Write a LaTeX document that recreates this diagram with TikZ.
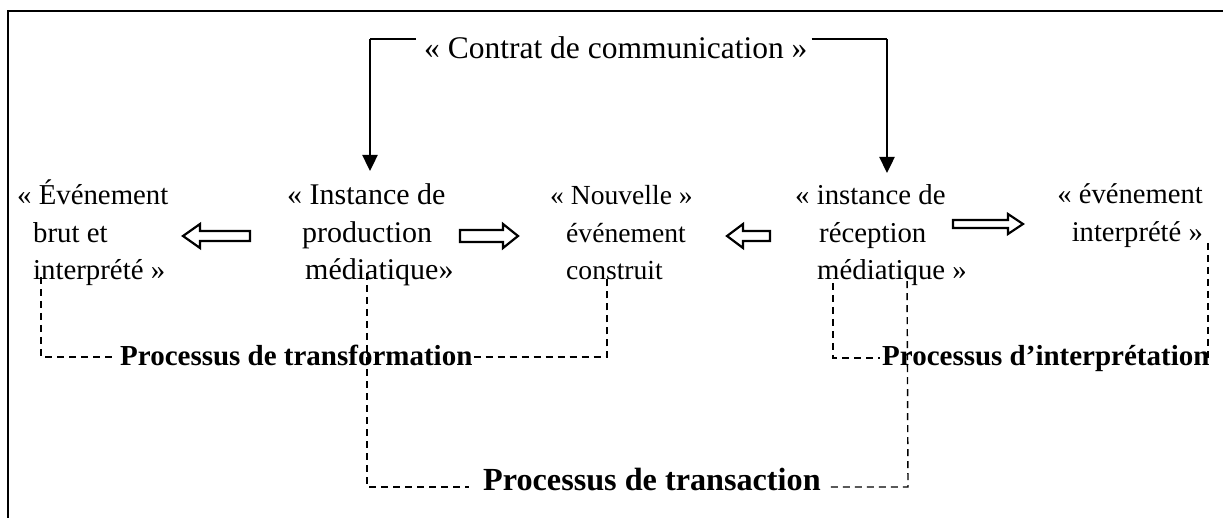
\documentclass[tikz,border=0pt]{standalone}
\usepackage{fontspec}
\setmainfont{Liberation Serif}
\usetikzlibrary{arrows.meta}
\newcommand\blockarr[6]{%
  \draw[blockline] (#1,{#3-#4}) -- ({#2-#6},{#3-#4}) -- ({#2-#6},{#3-#5}) -- (#2,#3)
    -- ({#2-#6},{#3+#5}) -- ({#2-#6},{#3+#4}) -- (#1,{#3+#4}) -- cycle;}
\begin{document}
\begin{tikzpicture}[x=1pt,y=-1pt,
  frameline/.style={line width=2.8pt},
  solidline/.style={line width=2.4pt,-{Triangle[length=16pt,width=15pt]}},
  plainline/.style={line width=2.4pt},
  blockline/.style={line width=2.2pt,line join=miter},
  dashline/.style={line width=1.4pt,dash pattern=on 7pt off 5pt},
  txt/.style={inner sep=0pt,anchor=base west,align=left,font=\fontsize{28.8}{37.5}\selectfont},
  txtbig/.style={inner sep=0pt,anchor=base west,align=left,font=\fontsize{30}{37.5}\selectfont},
  txtsm/.style={inner sep=0pt,anchor=base west,align=left,font=\fontsize{27.6}{37.5}\selectfont},
  txtr/.style={inner sep=0pt,anchor=base east,align=right,font=\fontsize{28.6}{38}\selectfont},
  titletxt/.style={inner sep=0pt,anchor=base west,font=\fontsize{31.5}{38}\selectfont},
  proc/.style={inner sep=0pt,anchor=base west,font=\fontsize{29}{35}\selectfont\bfseries},
  procbig/.style={inner sep=0pt,anchor=base west,font=\fontsize{32.2}{38}\selectfont\bfseries}]
\useasboundingbox (0,0) rectangle (1223,518);
% frame
\draw[frameline] (8,518) -- (8,11) -- (1223,11);
% texts (multi-line nodes are placed by the baseline of their last line)
\node[titletxt] (contrat) at (424,59) {« Contrat de communication »};
\node[txt] (ev1) at (17,280) {« Événement\\\hspace*{16pt}brut et\\\hspace*{16pt}interprété »};
\node[txtbig] (prod) at (287,280) {« Instance de\\\hspace*{15pt}production\\\hspace*{18pt}médiatique»};
\node[txtsm] (nouv) at (550,280) {« Nouvelle »\\\hspace*{16pt}événement\\\hspace*{16pt}construit};
\node[txt] (recep) at (795,280) {« instance de\\\hspace*{24pt}réception\\\hspace*{22pt}médiatique »};
\node[txtr] (ev2) at (1203,242) {« événement\\interprété »};
\node[proc] (ptransf) at (120,366) {Processus de transformation};
\node[proc] (pinterp) at (882,366) {Processus d’interprétation};
\node[procbig] (ptrans) at (483,490) {Processus de transaction};
% contract arrows
\coordinate (cL) at (370,39);
\coordinate (cR) at (887,39);
\coordinate (pL) at (370,171);
\coordinate (pR) at (887,173);
\draw[plainline] ([xshift=-8pt]contrat.west |- cL) -- (cL);
\draw[solidline] (cL) -- (pL);
\draw[plainline] ([xshift=4pt]contrat.east |- cR) -- (cR);
\draw[solidline] (cR) -- (pR);
% block arrows
\blockarr{250}{183}{236}{5}{12}{-17}
\blockarr{460}{518}{236}{6}{12}{15}
\blockarr{770}{727}{236}{5}{12}{-16}
\blockarr{953}{1023}{224}{4}{10}{15}
% transformation
\coordinate (t1) at (41,277);
\coordinate (t2) at (41,357);
\coordinate (t3) at (607,357);
\coordinate (t4) at (607,275);
\draw[dashline] (t1) -- (t2) -- ([xshift=-6pt]ptransf.west |- t2);
\draw[dashline] ([xshift=1pt]ptransf.east |- t3) -- (t3) -- (t4);
% interpretation
\coordinate (i1) at (833,283);
\coordinate (i2) at (833,358);
\coordinate (i3) at (1208,243);
\coordinate (i4) at (1208,358);
\draw[dashline] (i1) -- (i2) -- ([xshift=-2pt]pinterp.west |- i2);
\draw[dashline] (i3) -- (i4);
% transaction
\coordinate (r1) at (367,273);
\coordinate (r2) at (367,487);
\coordinate (r3) at (908,487);
\coordinate (r4) at (907,273);
\draw[dashline] (r1) -- (r2) -- ([xshift=-14pt]ptrans.west |- r2);
\draw[dashline] ([xshift=10pt]ptrans.east |- r3) -- (r3) -- (r4);
\end{tikzpicture}
\end{document}
